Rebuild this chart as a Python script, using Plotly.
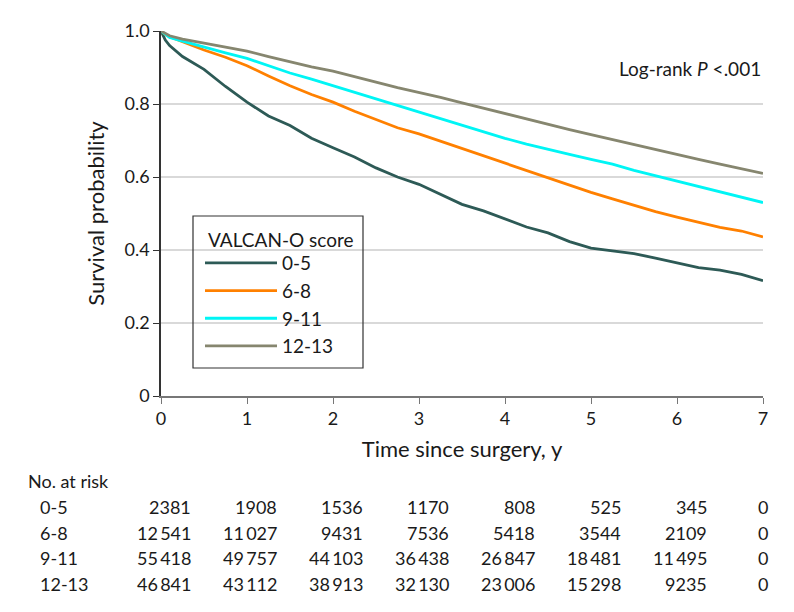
import plotly.graph_objects as go

# ---- Data ----
times = [0, 0.05, 0.1, 0.25, 0.5, 0.75, 1.0, 1.25, 1.5, 1.75, 2.0, 2.25, 2.5, 2.75,
         3.0, 3.25, 3.5, 3.75, 4.0, 4.25, 4.5, 4.75, 5.0, 5.25, 5.5, 5.75, 6.0,
         6.25, 6.5, 6.75, 7.0]

surv_0_5 = [1.0, 0.975, 0.96, 0.93, 0.895, 0.848, 0.805, 0.767, 0.741, 0.706, 0.68,
            0.655, 0.625, 0.60, 0.58, 0.553, 0.525, 0.507, 0.485, 0.463, 0.447,
            0.423, 0.405, 0.398, 0.39, 0.378, 0.365, 0.352, 0.345, 0.333, 0.316]
surv_6_8 = [1.0, 0.99, 0.984, 0.97, 0.948, 0.928, 0.905, 0.877, 0.85, 0.826, 0.805,
            0.78, 0.758, 0.735, 0.718, 0.698, 0.677, 0.658, 0.638, 0.617, 0.597,
            0.577, 0.558, 0.54, 0.522, 0.505, 0.49, 0.475, 0.462, 0.452, 0.436]
surv_9_11 = [1.0, 0.99, 0.982, 0.972, 0.955, 0.94, 0.925, 0.905, 0.885, 0.868, 0.85,
             0.83, 0.813, 0.795, 0.777, 0.76, 0.74, 0.722, 0.706, 0.69, 0.675,
             0.662, 0.648, 0.635, 0.618, 0.603, 0.59, 0.575, 0.56, 0.545, 0.53]
surv_12_13 = [1.0, 0.993, 0.987, 0.978, 0.967, 0.955, 0.945, 0.93, 0.915, 0.902, 0.89,
              0.874, 0.86, 0.845, 0.832, 0.818, 0.803, 0.788, 0.774, 0.758, 0.745,
              0.73, 0.716, 0.702, 0.688, 0.675, 0.661, 0.648, 0.635, 0.622, 0.61]

groups = ["0-5", "6-8", "9-11", "12-13"]
colors = ["#2d5a56", "#ff8000", "#00f5f5", "#86866f"]

risk_times = [0, 1, 2, 3, 4, 5, 6, 7]
risk_0_5 = [2381, 1908, 1536, 1170, 808, 525, 345, 0]
risk_6_8 = [12541, 11027, 9431, 7536, 5418, 3544, 2109, 0]
risk_9_11 = [55418, 49757, 44103, 36438, 26847, 18481, 11495, 0]
risk_12_13 = [46841, 43112, 38913, 32130, 23006, 15298, 9235, 0]

y_ticks = [0, 0.2, 0.4, 0.6, 0.8, 1.0]
y_tick_labels = ["0", "0.2", "0.4", "0.6", "0.8", "1.0"]
x_ticks = [0, 1, 2, 3, 4, 5, 6, 7]

FONT = "Lato"
FS = 18
TXT = "#1a1a1a"

series = [surv_0_5, surv_6_8, surv_9_11, surv_12_13]
risks = [risk_0_5, risk_6_8, risk_9_11, risk_12_13]

# page body has an 8px margin; work in screen pixels and convert
OFF = 8
W, H = 794, 612
PX0, PX1, PY0, PY1 = 161, 763, 31, 396   # plot area on screen
L = PX0 - OFF
T = PY0 - OFF
R = W - (PX1 - OFF)
B = H - (PY1 - OFF)
plot_w = PX1 - PX0
plot_h = PY1 - PY0

def sy(py):  # screen y -> paper
    return (PY1 - py) / plot_h

def sx(px):  # screen x -> paper
    return (px - PX0) / plot_w

def fmt(n):
    s = str(n)
    if n >= 10000:
        s = s[:-3] + "\u2009" + s[-3:]
    return s

fig = go.Figure()
for name, s, c in zip(groups, series, colors):
    fig.add_trace(go.Scatter(x=times, y=s, mode="lines", name=name, legendgroup=name,
                             line=dict(color=c, width=2.8), cliponaxis=False))

ann = []
ann.append(dict(text="Log-rank <i>P</i> <.001", x=1.0, y=sy(68), xref="paper",
                yref="paper", xanchor="right", yanchor="middle", showarrow=False,
                font=dict(size=19, family=FONT, color=TXT)))
ann.append(dict(text="VALCAN-O score", x=sx(206), y=sy(239), xref="paper",
                yref="paper", xanchor="left", yanchor="middle", showarrow=False,
                font=dict(size=19, family=FONT, color=TXT)))
ann.append(dict(text="No. at risk", x=sx(26), y=sy(481), xref="paper", yref="paper",
                xanchor="left", yanchor="middle", showarrow=False,
                font=dict(size=FS, family=FONT, color=TXT)))
row_y = [507, 533, 558, 584]
for g, r, ry in zip(groups, risks, row_y):
    ann.append(dict(text=g, x=sx(38), y=sy(ry), xref="paper", yref="paper",
                    xanchor="left", yanchor="middle", showarrow=False,
                    font=dict(size=FS, family=FONT, color=TXT)))
    for t, n in zip(risk_times, r):
        last = t == risk_times[-1]
        ann.append(dict(text=fmt(n), x=t, y=sy(ry), xref="x", yref="paper",
                        xanchor="center" if last else "right",
                        xshift=0 if last else 32, yanchor="middle", showarrow=False,
                        font=dict(size=FS, family=FONT, color=TXT)))

# legend frame
shapes = [dict(type="rect", xref="paper", yref="paper", x0=sx(193), x1=sx(363),
               y0=sy(368), y1=sy(216), line=dict(color="#333333", width=1.2),
               fillcolor="rgba(0,0,0,0)", layer="above")]

fig.update_layout(
    width=W, height=H,
    margin=dict(l=L, r=R, t=T, b=B, autoexpand=False),
    paper_bgcolor="white", plot_bgcolor="white",
    font=dict(family=FONT, size=FS, color=TXT),
    xaxis=dict(range=[0, 7], tickvals=x_ticks, ticks="outside", ticklen=6,
               tickcolor="#777777", tickwidth=1.2, showline=True, linecolor="#777777",
               linewidth=1.5, showgrid=False, zeroline=False,
               title=dict(text="Time since surgery, y", standoff=13),
               tickfont=dict(size=FS, family=FONT, color=TXT)),
    yaxis=dict(range=[0, 1], tickvals=y_ticks, ticktext=y_tick_labels, ticks="outside",
               ticklen=6, tickcolor="#333333", tickwidth=1.2, showline=True,
               linecolor="#333333", linewidth=1.5, showgrid=True, gridcolor="#d9d9d9",
               gridwidth=1.5, zeroline=False,
               title=dict(text="Survival probability", standoff=14),
               tickfont=dict(size=FS, family=FONT, color=TXT)),
    legend=dict(x=sx(200), y=sy(244), xanchor="left", yanchor="top",
                borderwidth=0, bgcolor="rgba(0,0,0,0)",
                font=dict(size=19, family=FONT, color=TXT), itemwidth=72,
                tracegroupgap=0),
    shapes=shapes,
    annotations=ann,
    showlegend=True,
)

fig.write_html("out.html")
